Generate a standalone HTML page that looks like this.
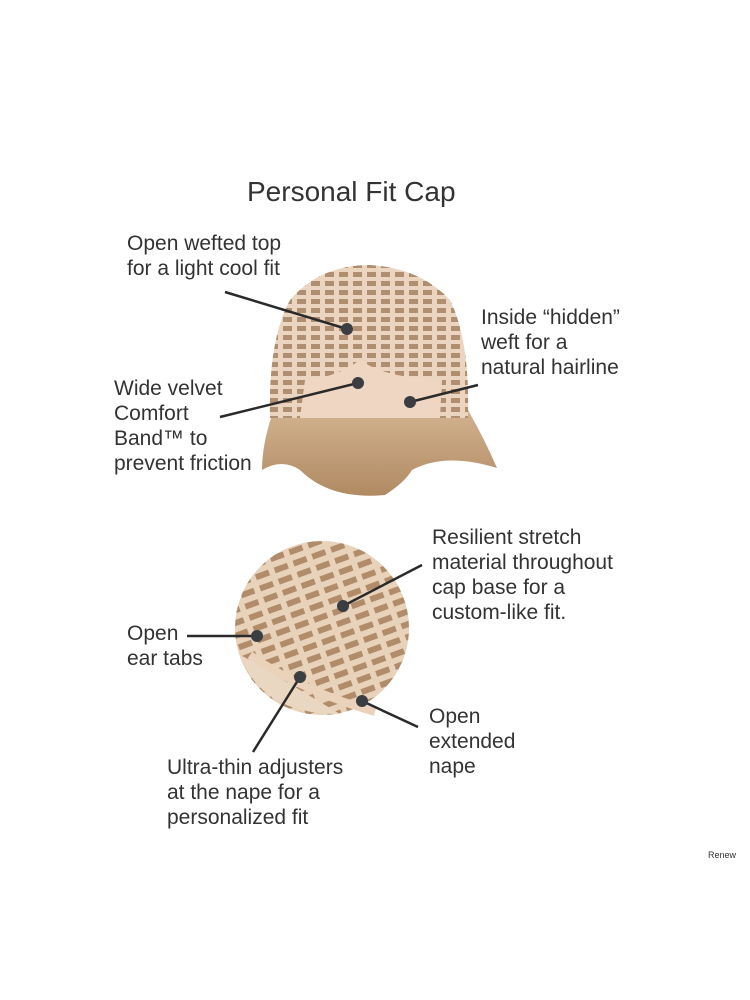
<!DOCTYPE html>
<html><head><style>
body{margin:0;background:#fff;}
.w{position:relative;width:750px;height:1000px;overflow:hidden;font-family:"Liberation Sans",sans-serif;color:#333;}
.t{position:absolute;font-size:21px;line-height:25px;white-space:nowrap;}
</style></head><body><div class="w">
<svg width="750" height="1000" style="position:absolute;left:0;top:0">
<defs>
<pattern id="p" width="14" height="9" patternUnits="userSpaceOnUse">
<rect width="14" height="9" fill="#ecd5c0"/><rect x="3" y="2" width="9" height="5" fill="#b08e70"/>
</pattern>
<pattern id="q" width="20" height="12" patternUnits="userSpaceOnUse" patternTransform="rotate(-20)">
<rect width="20" height="12" fill="#e9d2ba"/><rect x="3" y="3" width="14" height="6" fill="#b08c6a"/>
</pattern>
<linearGradient id="h" x1="0" y1="0" x2="0" y2="1"><stop offset="0" stop-color="#d2b290"/><stop offset="1" stop-color="#b08a62"/></linearGradient>
</defs>
<path d="M272 415 Q262 445 262 470 Q282 458 300 470 Q330 500 385 495 Q405 482 412 470 Q445 452 497 468 Q485 440 468 410 Z" fill="url(#h)"/>
<path d="M270 418 Q268 340 290 300 Q320 265 370 265 Q420 268 450 300 Q470 340 468 418 Z" fill="url(#p)"/>
<path d="M300 418 L305 380 Q335 378 360 360 Q385 378 442 380 L440 418 Z" fill="#efd6c2"/>
<circle cx="322" cy="628" r="87" fill="url(#q)"/>
<path d="M240 655 Q262 715 340 714 L300 690 Q270 672 250 660 Z" fill="#ead7c2"/>
<path d="M250 655 Q300 690 375 712" stroke="#ead2bb" stroke-width="8" fill="none"/>
<g stroke="#2a2a2a" stroke-width="2.5" fill="none">
<line x1="225" y1="292" x2="347" y2="329"/>
<line x1="220" y1="417" x2="358" y2="383"/>
<line x1="478" y1="385" x2="410" y2="402"/>
<line x1="422" y1="565" x2="343" y2="606"/>
<line x1="187" y1="636" x2="257" y2="636"/>
<line x1="253" y1="752" x2="300" y2="677"/>
<line x1="418" y1="727" x2="362" y2="701"/>
</g>
<g fill="#3a3d42">
<circle cx="347" cy="329" r="6"/><circle cx="358" cy="383" r="6"/><circle cx="410" cy="402" r="6"/>
<circle cx="343" cy="606" r="6"/><circle cx="257" cy="636" r="6"/><circle cx="300" cy="677" r="6"/><circle cx="362" cy="701" r="6"/>
</g>
</svg>
<div class="t" style="left:247px;top:175px;font-size:28px;line-height:34px">Personal Fit Cap</div>
<div class="t" style="left:127px;top:231px">Open wefted top<br>for a light cool fit</div>
<div class="t" style="left:481px;top:305px">Inside “hidden”<br>weft for a<br>natural hairline</div>
<div class="t" style="left:114px;top:376px">Wide velvet<br>Comfort<br>Band™ to<br>prevent friction</div>
<div class="t" style="left:432px;top:525px">Resilient stretch<br>material throughout<br>cap base for a<br>custom-like fit.</div>
<div class="t" style="left:127px;top:621px">Open<br>ear tabs</div>
<div class="t" style="left:429px;top:704px">Open<br>extended<br>nape</div>
<div class="t" style="left:167px;top:755px">Ultra-thin adjusters<br>at the nape for a<br>personalized fit</div>
<div class="t" style="left:708px;top:849px;font-size:9px;line-height:12px">Renew</div>
</div></body></html>
